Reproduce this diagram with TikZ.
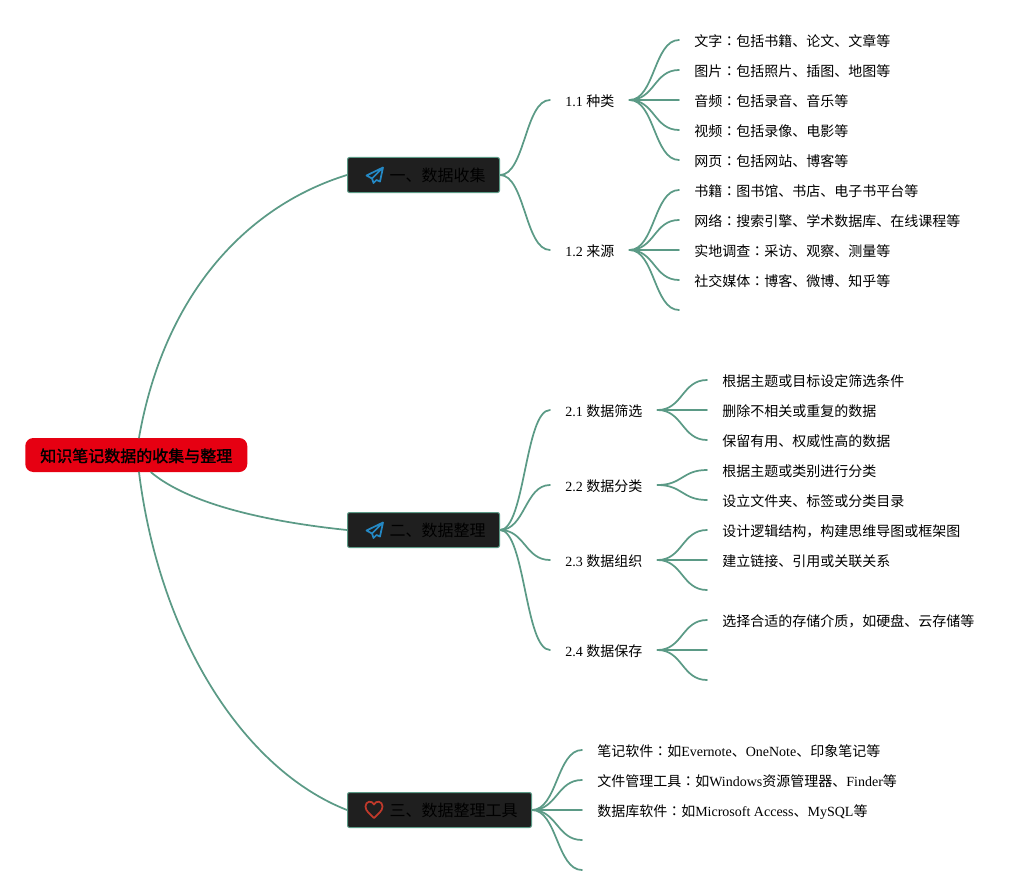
\documentclass[tikz,border=0pt]{standalone}
\usepackage{fontspec}
\setmainfont{Liberation Serif}
\newfontfamily\cjk{Noto Sans CJK SC}
\newfontfamily\cjkb[FakeBold=1.6]{Noto Sans CJK SC}
\newfontfamily\tcf{Noto Sans CJK TC}
\newcommand{\C}[1]{{\cjk #1}}
\newcommand{\K}{{\tcf ：}}
\newcommand{\curve}[2]{\draw[conn] (#1) .. controls +(25,0) and +(-25,0) .. (#2);}
\definecolor{teal1}{HTML}{5B9A86}
\definecolor{boxdark}{HTML}{1F1F1F}
\definecolor{rootred}{HTML}{E60012}
\definecolor{planeblue}{HTML}{2488C4}
\definecolor{heartred}{HTML}{C0392B}
\tikzset{
  conn/.style={draw=teal1,line width=1.3pt,line cap=round},
  rootbox/.style={draw=none,fill=rootred,rounded corners=6pt,anchor=west,inner xsep=11.25pt,inner ysep=0pt,minimum height=25.5pt,text=black,text height=12.4pt,text depth=2pt},
  topic/.style={draw=teal1,line width=.75pt,fill=boxdark,rounded corners=1.5pt,anchor=west,inner xsep=10.5pt,inner ysep=0pt,minimum height=26.25pt,text=black,font=\fontsize{12}{14}\selectfont,text height=12.4pt,text depth=2pt},
  subt/.style={anchor=west,inner xsep=11.25pt,inner ysep=0pt,minimum height=15pt,font=\fontsize{10.5}{12}\selectfont,text height=11.3pt,text depth=2pt},
  leaf/.style={anchor=west,inner xsep=11.25pt,inner ysep=0pt,minimum height=15pt,font=\fontsize{10.5}{12}\selectfont,text height=11.3pt,text depth=2pt},
  plane/.style={draw=planeblue,line width=1.3pt,line join=round},
  hearticon/.style={draw=heartred,line width=1.3pt,line join=round}
}
\begin{document}
\begin{tikzpicture}[x=.75pt,y=-.75pt]
\useasboundingbox (0,0) rectangle (1034,895);
% root and topics
\node[rootbox] (root) at (25,455) {\fontsize{12}{14}\selectfont\cjkb 知识笔记数据的收集与整理};
\node[topic] (t1) at (347,175) {\hspace{21pt}\C{一、数据收集}};
\node[topic] (t2) at (347,530) {\hspace{21pt}\C{二、数据整理}};
\node[topic] (t3) at (347,810) {\hspace{21pt}\C{三、数据整理工具}};
% icons
\draw[plane] (383,167.5) -- (366.5,175.5) -- (372,178.5) -- (373.5,183) -- (376.5,180) -- (380,181.5) -- cycle (383,167.5) -- (372,178.5);
\draw[plane] (383,522.5) -- (366.5,530.5) -- (372,533.5) -- (373.5,538) -- (376.5,535) -- (380,536.5) -- cycle (383,522.5) -- (372,533.5);
\draw[hearticon] (374,818) .. controls (370,814) and (365.5,811) .. (365.5,806.5) .. controls (365.5,801) and (372,800) .. (374,804.5) .. controls (376,800) and (382.5,801) .. (382.5,806.5) .. controls (382.5,811) and (378,814) .. (374,818) -- cycle;
% subtopics
\node[subt] (a1) at (550,100) {1.1 \C{种类}};
\node[subt] (a2) at (550,250) {1.2 \C{来源}};
\node[subt] (b1) at (550,410) {2.1 \C{数据筛选}};
\node[subt] (b2) at (550,485) {2.2 \C{数据分类}};
\node[subt] (b3) at (550,560) {2.3 \C{数据组织}};
\node[subt] (b4) at (550,650) {2.4 \C{数据保存}};
% leaves
\node[leaf] (a11) at (679,40) {\C{文字}\K\C{包括书籍、论文、文章等}};
\node[leaf] (a12) at (679,70) {\C{图片}\K\C{包括照片、插图、地图等}};
\node[leaf] (a13) at (679,100) {\C{音频}\K\C{包括录音、音乐等}};
\node[leaf] (a14) at (679,130) {\C{视频}\K\C{包括录像、电影等}};
\node[leaf] (a15) at (679,160) {\C{网页}\K\C{包括网站、博客等}};
\node[leaf] (a21) at (679,190) {\C{书籍}\K\C{图书馆、书店、电子书平台等}};
\node[leaf] (a22) at (679,220) {\C{网络}\K\C{搜索引擎、学术数据库、在线课程等}};
\node[leaf] (a23) at (679,250) {\C{实地调查}\K\C{采访、观察、测量等}};
\node[leaf] (a24) at (679,280) {\C{社交媒体}\K\C{博客、微博、知乎等}};
\coordinate (a25) at (679,310);
\node[leaf] (b11) at (707,380) {\C{根据主题或目标设定筛选条件}};
\node[leaf] (b12) at (707,410) {\C{删除不相关或重复的数据}};
\node[leaf] (b13) at (707,440) {\C{保留有用、权威性高的数据}};
\node[leaf] (b21) at (707,470) {\C{根据主题或类别进行分类}};
\node[leaf] (b22) at (707,500) {\C{设立文件夹、标签或分类目录}};
\node[leaf] (b31) at (707,530) {\C{设计逻辑结构，构建思维导图或框架图}};
\node[leaf] (b32) at (707,560) {\C{建立链接、引用或关联关系}};
\coordinate (b33) at (707,590);
\node[leaf] (b41) at (707,620) {\C{选择合适的存储介质，如硬盘、云存储等}};
\coordinate (b42) at (707,650);
\coordinate (b43) at (707,680);
\node[leaf] (c1) at (582,750) {\C{笔记软件}\K\C{如}Evernote\C{、}OneNote\C{、印象笔记等}};
\node[leaf] (c2) at (582,780) {\C{文件管理工具}\K\C{如}Windows\C{资源管理器、}Finder\C{等}};
\node[leaf] (c3) at (582,810) {\C{数据库软件}\K\C{如}Microsoft Access\C{、}MySQL\C{等}};
\coordinate (c4) at (582,840);
\coordinate (c5) at (582,870);
% root connectors
\draw[conn] (root.north -| 139,0) .. controls (165,290) and (250,205) .. (t1.west);
\draw[conn] (root.south -| 151,0) .. controls (190,505) and (270,522) .. (t2.west);
\draw[conn] (root.south -| 139,0) .. controls (160,640) and (245,770) .. (t3.west);
% topic connectors
\curve{t1.east}{a1.west}\curve{t1.east}{a2.west}
\curve{t2.east}{b1.west}\curve{t2.east}{b2.west}\curve{t2.east}{b3.west}\curve{t2.east}{b4.west}
\curve{t3.east}{c1.west}\curve{t3.east}{c2.west}\curve{t3.east}{c3.west}\curve{t3.east}{c4}\curve{t3.east}{c5}
% subtopic connectors
\curve{a1.east}{a11.west}\curve{a1.east}{a12.west}\curve{a1.east}{a13.west}\curve{a1.east}{a14.west}\curve{a1.east}{a15.west}
\curve{a2.east}{a21.west}\curve{a2.east}{a22.west}\curve{a2.east}{a23.west}\curve{a2.east}{a24.west}\curve{a2.east}{a25}
\curve{b1.east}{b11.west}\curve{b1.east}{b12.west}\curve{b1.east}{b13.west}
\curve{b2.east}{b21.west}\curve{b2.east}{b22.west}
\curve{b3.east}{b31.west}\curve{b3.east}{b32.west}\curve{b3.east}{b33}
\curve{b4.east}{b41.west}\curve{b4.east}{b42}\curve{b4.east}{b43}
\end{tikzpicture}
\end{document}
